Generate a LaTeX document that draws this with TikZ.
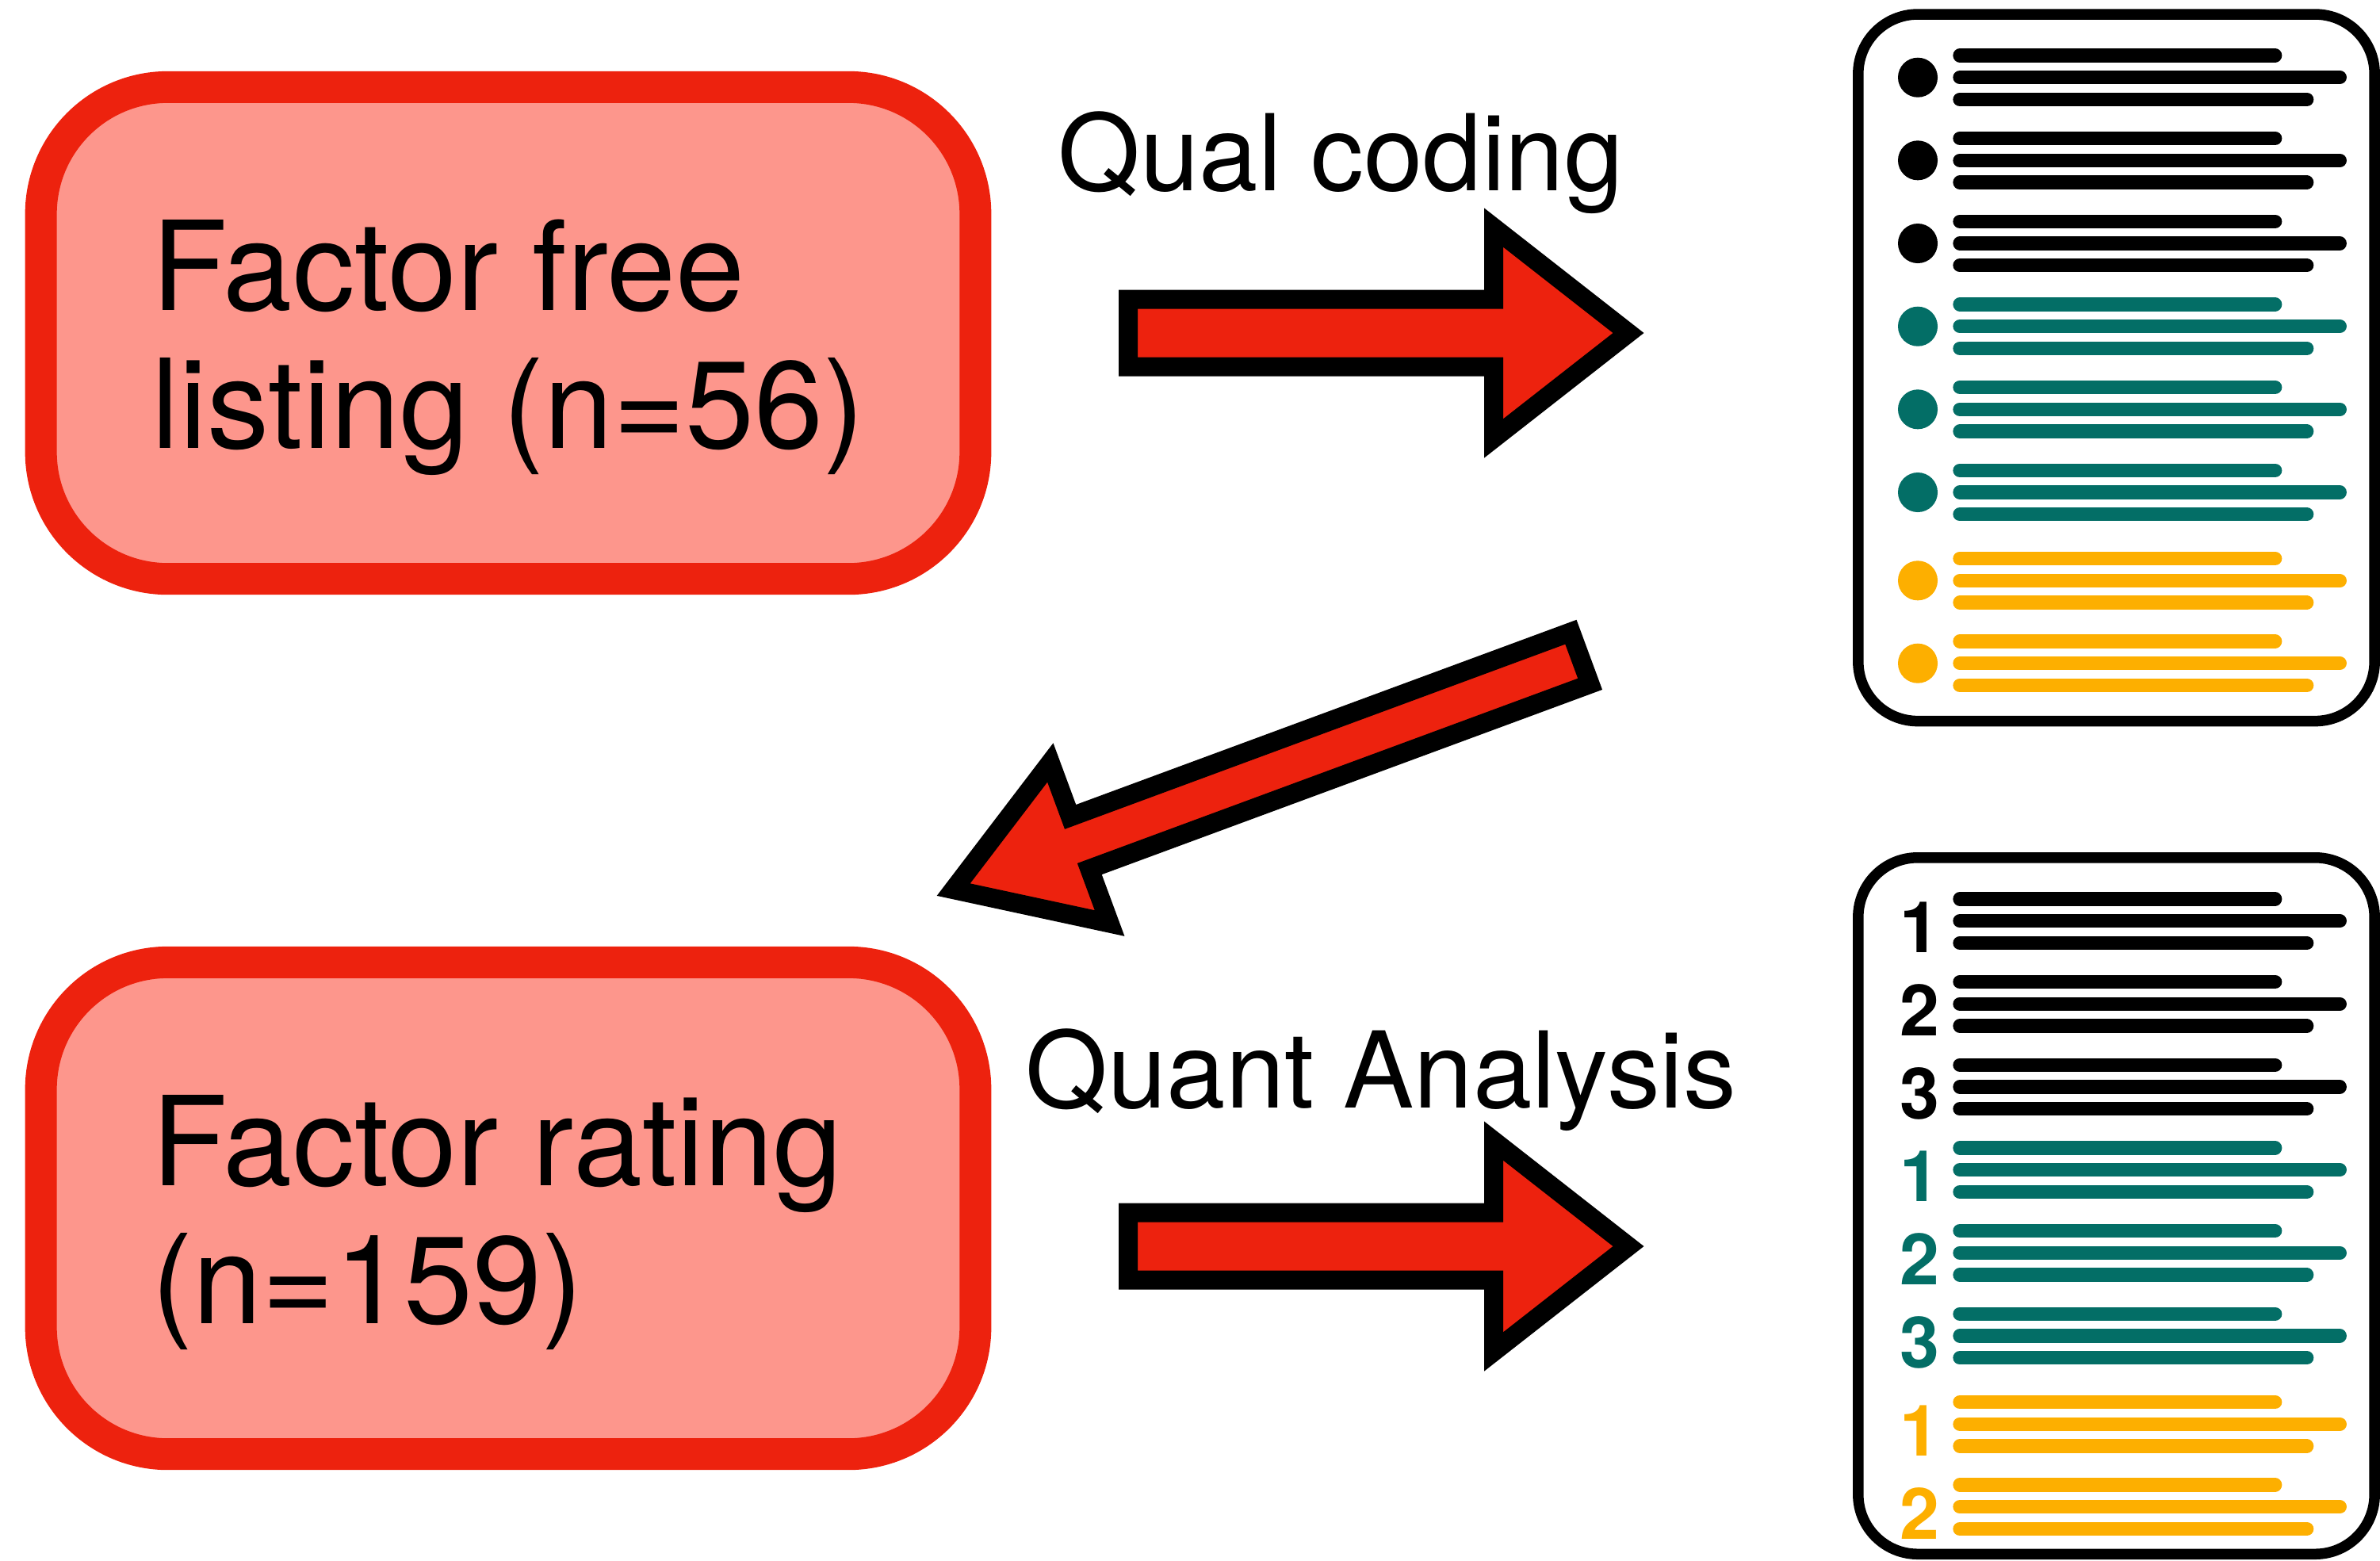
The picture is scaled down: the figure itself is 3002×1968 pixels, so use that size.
\documentclass[tikz,border=0pt]{standalone}
\usepackage{fontspec}
\setmainfont{TeX Gyre Heros}
\usepackage{tikz}
\definecolor{boxred}{RGB}{237,34,14}
\definecolor{boxpink}{RGB}{253,150,140}
\definecolor{codeteal}{RGB}{3,110,102}
\definecolor{codeamber}{RGB}{253,175,0}
\tikzset{
  factorbox/.style  = {draw=boxred, line width=0.4cm, fill=boxpink, rounded corners=1.6cm,
                       minimum width=11.78cm, minimum height=6.2cm, inner sep=0pt},
  factortext/.style = {anchor=base west, align=left, inner sep=0pt,
                       font=\fontsize{44.5}{49.3}\selectfont},
  steplabel/.style  = {anchor=base, inner sep=0pt, font=\fontsize{38}{44}\selectfont},
  bigarrow/.style   = {draw=black, line width=0.24cm, fill=boxred, line join=miter},
  listbox/.style    = {draw=black, line width=0.135cm, fill=white, rounded corners=0.75cm,
                       minimum width=6.51cm, inner sep=0pt},
  textline/.style   = {line width=0.173cm, line cap=round},
  rank/.style       = {inner sep=0pt, font=\fontsize{25.5}{30}\selectfont\bfseries},
}
\begin{document}
\begin{tikzpicture}[x=0.01cm,y=-0.01cm]
  \useasboundingbox (0,0) rectangle (3002,1968);
  % the two studies (text anchored on its last baseline)
  \node[factorbox] (free) at (641,420) {};
  \node[factortext] (freetxt) at (191,565) {Factor free\\listing (n=56)};
  \node[factorbox] (rating) at (641,1524) {};
  \node[factortext] (ratingtxt) at (191,1669) {Factor rating\\(n=159)};
  % block arrows
  \draw[bigarrow] (1423,377.5) -- (1884,377.5) -- (1884,287) -- (2054,420)
    -- (1884,553) -- (1884,462.5) -- (1423,462.5) -- cycle;
  \node[steplabel] (qual) at (1691,240) {Qual coding};
  \draw[bigarrow] (1981.4,797.2) -- (1350.1,1030.4) -- (1324.8,961.9) -- (1202.7,1122.1)
    -- (1399.6,1164.5) -- (1374.3,1096.0) -- (2005.6,862.8) -- cycle;
  \draw[bigarrow] (1423,1529.5) -- (1884,1529.5) -- (1884,1439) -- (2054,1572)
    -- (1884,1705) -- (1884,1614.5) -- (1423,1614.5) -- cycle;
  \node[steplabel] (quant) at (1742,1397) {Quant Analysis};
  % coded list
  \node[listbox, minimum height=8.91cm] (coded) at (2669.5,463.8) {};
  \foreach \y/\c in {97.7/black, 202.3/black, 307/black, 411.7/codeteal, 516.3/codeteal,
                     621/codeteal, 732.3/codeamber, 836.7/codeamber} {
    \fill[\c] (2419,\y) circle[radius=0.25cm];
    \draw[textline, \c] (2472,\y-27.8) -- (2869.7,\y-27.8);
    \draw[textline, \c] (2472,\y) -- (2951.3,\y);
    \draw[textline, \c] (2472,\y+27.8) -- (2909.7,\y+27.8);
  }
  % ranked list
  \node[listbox, minimum height=8.78cm] (ranked) at (2669.5,1521) {};
  \foreach \y/\c/\n [count=\i] in {1161.7/black/1, 1266.3/black/2, 1371/black/3,
                     1475.7/codeteal/1, 1580.3/codeteal/2, 1685/codeteal/3,
                     1796.3/codeamber/1, 1900.7/codeamber/2} {
    \node[rank, text=\c] (rank\i) at (2421,\y+8) {\n};
    \draw[textline, \c] (2472,\y-27.8) -- (2869.7,\y-27.8);
    \draw[textline, \c] (2472,\y) -- (2951.3,\y);
    \draw[textline, \c] (2472,\y+27.8) -- (2909.7,\y+27.8);
  }
\end{tikzpicture}
\end{document}
